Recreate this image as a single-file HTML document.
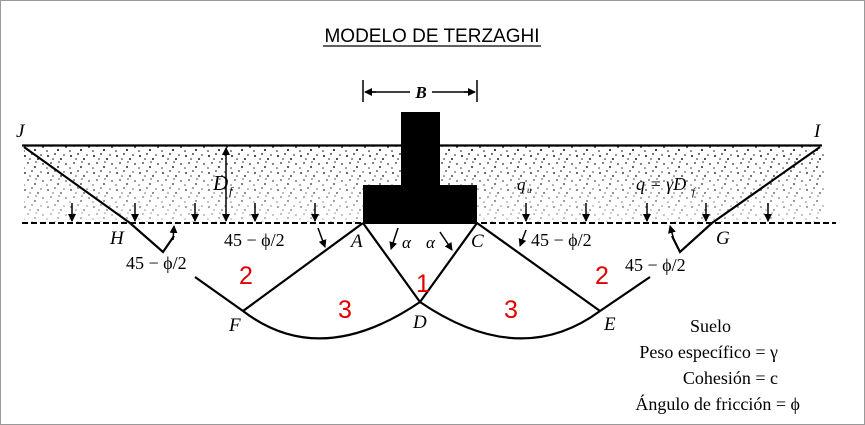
<!DOCTYPE html>
<html><head><meta charset="utf-8"><style>
html,body{margin:0;padding:0;background:#fff;}
svg{display:block;}
</style></head><body>
<svg width="865" height="425" viewBox="0 0 865 425" xmlns="http://www.w3.org/2000/svg">
<defs>
<pattern id="dots" width="23" height="17" patternUnits="userSpaceOnUse">
<circle cx="2" cy="3" r="1" fill="#000"/><circle cx="9" cy="1" r="0.9" fill="#000"/><circle cx="15" cy="6" r="1" fill="#000"/><circle cx="20" cy="11" r="0.9" fill="#000"/><circle cx="5" cy="10" r="0.9" fill="#000"/><circle cx="12" cy="14" r="1" fill="#000"/><circle cx="18" cy="2" r="0.8" fill="#000"/><circle cx="7" cy="6" r="0.8" fill="#000"/><circle cx="13" cy="9" r="0.8" fill="#000"/><circle cx="1" cy="15" r="0.8" fill="#000"/>
</pattern>
<linearGradient id="fade" x1="0" y1="0" x2="0" y2="1"><stop offset="0" stop-color="#fff" stop-opacity="0"/><stop offset="1" stop-color="#fff" stop-opacity="0.7"/></linearGradient>
<marker id="ah" markerWidth="8" markerHeight="8" refX="7" refY="4" orient="auto" markerUnits="userSpaceOnUse"><path d="M0,0 L8,4 L0,8 Z" fill="#000"/></marker>
</defs>
<rect x="0.5" y="0.5" width="864" height="424" fill="#fff" stroke="#999"/>
<text x="432" y="42" font-family="Liberation Sans, sans-serif" font-size="19" text-anchor="middle">MODELO DE TERZAGHI</text>
<line x1="323" y1="46" x2="541" y2="46" stroke="#000" stroke-width="1.3"/>
<rect x="24" y="146" width="800" height="76" fill="url(#dots)"/>
<rect x="24" y="146" width="800" height="78" fill="url(#fade)"/>
<line x1="22" y1="145.5" x2="822" y2="145.5" stroke="#000" stroke-width="2.2"/>
<line x1="22" y1="223" x2="836" y2="223" stroke="#000" stroke-width="2" stroke-dasharray="6,3"/>
<rect x="401" y="112" width="39" height="80" fill="#000"/>
<rect x="363" y="185" width="114" height="39" fill="#000"/>
<line x1="363" y1="80" x2="363" y2="102" stroke="#000" stroke-width="1.5"/>
<line x1="477" y1="80" x2="477" y2="102" stroke="#000" stroke-width="1.5"/>
<line x1="376" y1="92" x2="365" y2="92" stroke="#000" stroke-width="1.5" marker-end="url(#ah)"/>
<line x1="464" y1="92" x2="475" y2="92" stroke="#000" stroke-width="1.5" marker-end="url(#ah)"/>
<line x1="370" y1="92" x2="410" y2="92" stroke="#000" stroke-width="1.5"/>
<line x1="432" y1="92" x2="470" y2="92" stroke="#000" stroke-width="1.5"/>
<text x="421" y="98" font-family="Liberation Serif, serif" font-size="17" font-style="italic" font-weight="bold" text-anchor="middle">B</text>
<g font-family="Liberation Serif, serif" font-style="italic" font-size="19">
<text x="16" y="137">J</text><text x="814" y="137">I</text>
<text x="110" y="244">H</text><text x="716" y="244">G</text>
<text x="351" y="247">A</text><text x="471" y="247">C</text>
<text x="229" y="331">F</text><text x="413" y="328">D</text><text x="604" y="330">E</text>
<text x="213" y="190" font-size="21">D</text><text x="229" y="195" font-size="12">f</text>
<text x="517" y="190" font-size="17">q</text><text x="527" y="193" font-size="9">u</text>
<text x="636" y="190" font-size="18">q = γD</text><text x="692" y="195" font-size="11">f</text>
<text x="402" y="248" font-size="17">α</text><text x="426" y="248" font-size="17">α</text>
</g>
<g font-family="Liberation Serif, serif" font-size="18">
<text x="224" y="246">45 − ϕ/2</text>
<text x="126" y="269">45 − ϕ/2</text>
<text x="531" y="246">45 − ϕ/2</text>
<text x="625" y="271">45 − ϕ/2</text>
<text x="690" y="332">Suelo</text>
<text x="778" y="358" text-anchor="end">Peso específico = γ</text>
<text x="778" y="384" text-anchor="end">Cohesión = c</text>
<text x="800" y="410" text-anchor="end">Ángulo de fricción = ϕ</text>
</g>
<g stroke="#000" stroke-width="2.2" fill="none">
<polyline points="24,147 130,223 163,252 174,236"/>
<polyline points="820,147 712,223 680,252 672,236"/>
<line x1="195" y1="277" x2="243" y2="311"/>
<line x1="243" y1="311" x2="363" y2="223"/>
<line x1="363" y1="223" x2="420" y2="302"/>
<line x1="477" y1="223" x2="420" y2="302"/>
<line x1="477" y1="223" x2="600" y2="311"/>
<line x1="600" y1="311" x2="650" y2="277"/>
<path d="M243,311 Q320,370 420,302"/>
<path d="M420,302 Q520,370 600,311"/>
</g>
<g stroke="#000" stroke-width="1.5" fill="none" marker-end="url(#ah)">
<line x1="72" y1="203" x2="72" y2="221"/><line x1="135" y1="203" x2="135" y2="221"/>
<line x1="195" y1="203" x2="195" y2="221"/><line x1="255" y1="203" x2="255" y2="221"/>
<line x1="315" y1="203" x2="315" y2="221"/><line x1="526" y1="203" x2="526" y2="221"/>
<line x1="586" y1="203" x2="586" y2="221"/><line x1="647" y1="203" x2="647" y2="221"/>
<line x1="706" y1="203" x2="706" y2="221"/><line x1="768" y1="203" x2="768" y2="221"/>
<line x1="226" y1="180" x2="226" y2="221"/><line x1="226" y1="180" x2="226" y2="148"/>
<line x1="318" y1="228" x2="325" y2="247"/>
<line x1="173" y1="240" x2="174" y2="226"/>
<line x1="398" y1="228" x2="391" y2="249"/>
<line x1="440" y1="232" x2="452" y2="250"/>
<line x1="526" y1="230" x2="520" y2="246"/>
<line x1="674" y1="240" x2="670" y2="226"/>
</g>
<g font-family="Liberation Sans, sans-serif" font-size="25" fill="#e00000" text-anchor="middle">
<text x="246" y="284">2</text><text x="423" y="292">1</text>
<text x="345" y="318">3</text><text x="511" y="318">3</text><text x="602" y="284">2</text>
</g>
</svg>
</body></html>
